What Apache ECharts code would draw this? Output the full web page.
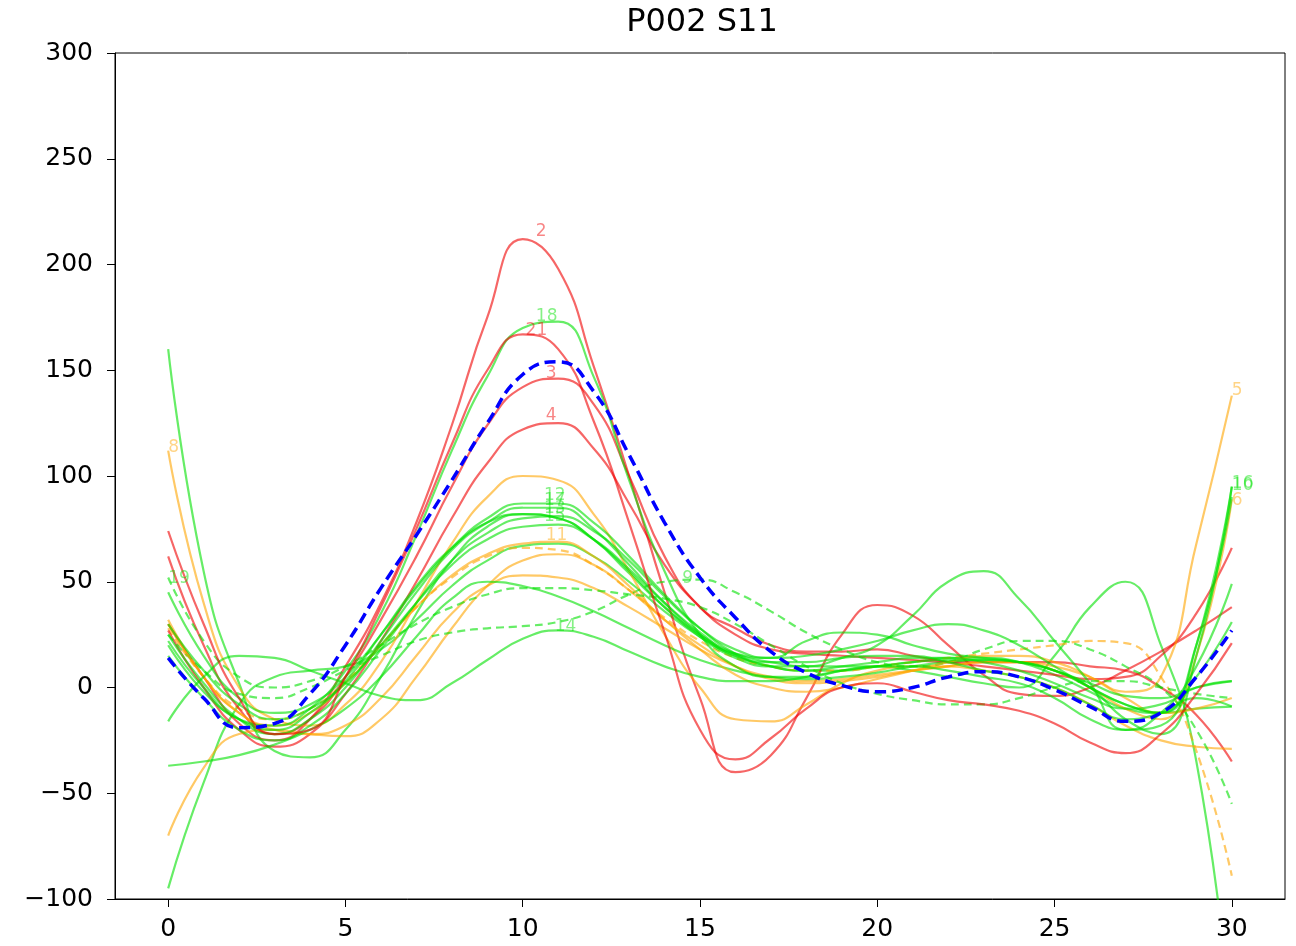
<!DOCTYPE html>
<html><head><meta charset="utf-8">
<script src="https://cdn.jsdelivr.net/npm/echarts@6/dist/echarts.min.js"></script>
<style>html,body{margin:0;padding:0;background:#fff}#c{width:1296px;height:946px}</style>
</head><body><div id="c"></div>
<script>
// ---- data ----
const chartTitle = 'P002 S11';
const xs = [0,1,2,3,4,5,6,7,8,9,10,11,12,13,14,15,16,17,18,19,20,21,22,23,24,25,26,27,28,29,30];
const xTicks = [0,5,10,15,20,25,30];

const r2  = [30,5,-17,-25,-15,10,40,78,124,175,212,198,152,100,45,-5,-40,-32,-5,25,39,34,20,6,-3,-4,0,8,17,27,38];
const r21 = [74,30,-5,-22,-20,5,38,75,115,150,167,160,126,78,26,-20,-34,-24,-10,0,2,-2,-6,-8,-11,-17,-26,-31,-22,-3,21];
const r3  = [62,20,-10,-22,-15,5,32,62,95,124,142,146,134,100,62,38,28,20,17,17,18,15,12,10,8,6,4,5,15,35,66];
const r4  = [27,0,-20,-28,-22,-3,22,50,80,106,122,125,113,87,58,38,25,18,16,15,14,13,12,12,12,12,10,8,0,-13,-35];

const o5  = [32,5,-12,-20,-22,-18,-5,15,35,48,53,52,47,38,28,18,10,5,3,4,6,8,10,12,12,10,5,-2,5,68,138];
const o6  = [-70,-38,-22,-20,-22,-23,-15,5,28,48,60,63,58,46,32,20,10,4,2,3,5,8,10,12,12,8,0,-10,-15,15,89];
const o8  = [112,40,0,-15,-18,-8,12,40,68,90,100,98,82,55,25,0,-15,-16,-8,2,8,10,10,8,5,0,-8,-18,-25,-28,-29];
const o11 = [30,5,-12,-18,-12,2,20,38,53,63,68,69,62,48,32,18,6,0,-2,0,4,8,12,15,15,12,5,-5,-12,-10,-5];
const oDash = [28,5,-10,-15,-10,3,20,38,52,62,66,65,58,46,33,22,14,10,8,8,10,12,14,16,18,20,22,21,5,-30,-89];

const g18 = [22,0,-15,-18,-10,8,35,72,112,147,170,173,147,98,55,25,10,5,5,8,10,10,8,5,2,-5,-15,-20,-12,10,49];
const g12 = [45,15,-5,-12,-8,5,25,47,66,80,87,87,78,62,44,28,16,10,8,10,12,14,14,12,8,2,-5,-10,-8,0,3];
const g17 = [25,2,-15,-22,-15,0,22,45,65,78,85,85,75,58,40,25,15,12,12,14,15,15,12,8,5,0,-8,-15,-12,-5,-9];
const g13 = [15,-5,-20,-25,-18,-3,18,40,60,73,80,81,74,60,43,28,18,14,15,18,22,27,30,27,20,10,0,-8,-12,5,31];
const g15 = [30,8,-8,-15,-10,2,20,40,58,70,76,77,70,56,40,26,16,14,22,26,25,20,16,14,12,8,0,-8,-12,20,90];
const g16 = [20,-2,-15,-20,-12,3,25,48,66,78,82,80,70,55,38,24,14,10,10,14,20,34,50,55,42,22,2,-20,-18,20,95];
const g10 = [-37,-35,-32,-27,-20,-10,5,24,42,50,48,43,36,28,20,13,8,5,4,5,7,10,12,13,12,8,0,-15,-22,15,95];
const g14 = [-16,5,15,14,8,2,-4,-6,2,13,23,27,24,17,10,5,3,3,5,8,10,12,13,13,12,8,2,-4,-5,0,3];
const g9  = [25,8,-3,-5,0,8,15,22,26,28,29,31,36,44,50,51,45,36,26,18,12,10,12,18,22,22,18,10,0,-20,-55];
const g19 = [52,22,5,0,3,10,20,30,38,44,47,47,46,44,42,38,30,20,10,2,-3,-6,-8,-8,-5,0,3,3,0,-3,-5];
const gNeg = [-95,-45,-8,5,8,10,18,32,48,60,67,68,62,50,36,24,15,10,8,8,10,12,14,14,12,6,-2,-10,-12,-10,-9];
const gBig = [160,55,2,-30,-33,-20,5,35,60,76,82,80,70,54,38,25,16,12,10,10,10,8,5,2,0,15,38,50,20,-35,-160];

const meanCurve = [14,-5,-19,-17,-3,20,47,72,98,125,148,154,140,110,78,52,33,17,7,1,-2,0,5,7.5,5,-1,-9,-16,-12,5,27];

// curve list: [values, colour group, dashed]
const curves = [
  [gBig,'green',false],[gNeg,'green',false],[oDash,'orange',true],
  [r2,'red',false],[r3,'red',false],[r4,'red',false],
  [o5,'orange',false],[o6,'orange',false],[o8,'orange',false],
  [g9,'green',true],[g10,'green',false],[o11,'orange',false],[g12,'green',false],
  [g13,'green',false],[g14,'green',false],[g15,'green',false],[g16,'green',false],
  [g17,'green',false],[g18,'green',false],[g19,'green',true],[r21,'red',false]
];

// text labels: [x, y, text, colour group]
const labelPoints = [
  [10.37,213,'2','red'],[10.37,173,'18','green'],[10.08,166,'21','red'],
  [10.65,146,'3','red'],[10.65,126,'4','red'],
  [10.6,88,'12','green'],[10.6,86,'17','green'],[10.6,82,'13','green'],[10.6,78,'15','green'],
  [10.65,69,'11','orange'],[10.9,26,'14','green'],[14.5,49,'9','green'],
  [30,138,'5','orange'],[30,93,'10','green'],[30,94,'16','green'],[30,86,'6','orange'],
  [0,111,'8','orange'],[0,49,'19','green']
];

// ---- styles ----
const groupColors = {red:'rgba(240,0,0,0.6)', orange:'rgba(255,165,0,0.6)', green:'rgba(0,225,0,0.6)'};
const FONT = 'DejaVu Sans';
const fmt = v => v < 0 ? '\u2212' + Math.abs(v) : String(v);

const series = curves.map(([vals, grp, dashed]) => ({
  type:'line', data: xs.map((x,i)=>[x, vals[i]]), smooth:true, showSymbol:false, symbol:'none',
  clip:true, silent:true,
  lineStyle:{color:groupColors[grp], width:2.2, type: dashed ? [8,5] : 'solid'}
}));
series.push({
  type:'line', data: xs.map((x,i)=>[x, meanCurve[i]]), smooth:true, symbol:'none', clip:true, silent:true, z:5,
  lineStyle:{color:'#0000ff', width:3.5, type:[11,6]}
});
series.push({
  type:'scatter', symbolSize:0, silent:true, z:6,
  data: labelPoints.map(p => ({value:[p[0],p[1]], label:{formatter:p[2], color:groupColors[p[3]]}})),
  label:{show:true, position:[0,0], align:'left', verticalAlign:'bottom', offset:[0,3], fontSize:17, fontFamily:FONT}
});

const chart = echarts.init(document.getElementById('c'), null, {renderer:'canvas'});
chart.setOption({
  animation:false,
  backgroundColor:'#fff',
  title:{text:chartTitle, left:697, top:2, textAlign:'center',
    textStyle:{fontFamily:FONT, fontSize:32, fontWeight:'normal', color:'#000'}},
  grid:{left:115, right:11, top:53, bottom:47, show:true, borderColor:'#000', borderWidth:1, backgroundColor:'transparent'},
  xAxis:{type:'value', min:-1.5, max:31.5,
    splitLine:{show:false}, axisLine:{show:true, onZero:false, lineStyle:{color:'#000'}},
    axisTick:{show:true, length:8, customValues:xTicks, lineStyle:{color:'#000'}},
    axisLabel:{customValues:xTicks, formatter:fmt, fontFamily:FONT, fontSize:25, color:'#000', margin:18}},
  yAxis:{type:'value', min:-100, max:300, interval:50,
    splitLine:{show:false}, axisLine:{show:true, onZero:false, lineStyle:{color:'#000'}},
    axisTick:{show:true, length:8, lineStyle:{color:'#000'}},
    axisLabel:{formatter:fmt, fontFamily:FONT, fontSize:25, color:'#000', margin:22}},
  series
});
</script></body></html>
